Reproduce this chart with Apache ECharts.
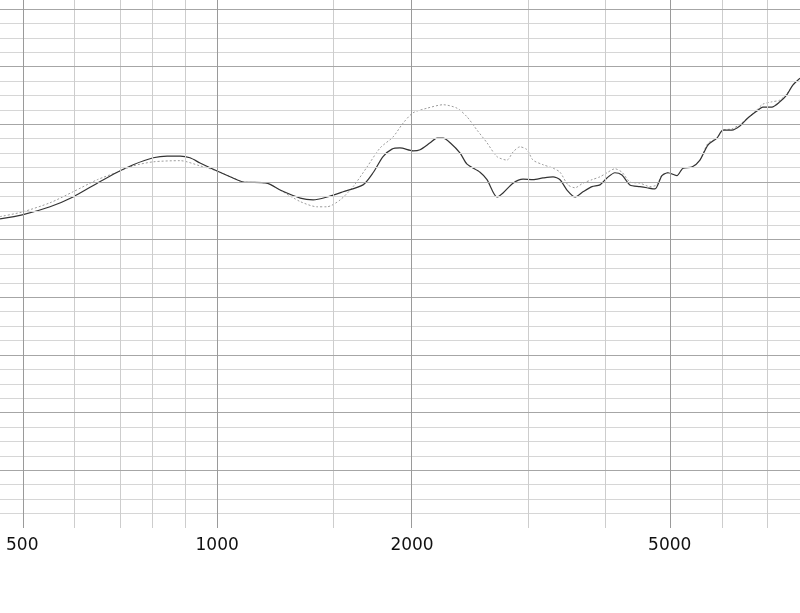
<!DOCTYPE html>
<html>
<head>
<meta charset="utf-8">
<script src="https://cdn.jsdelivr.net/npm/echarts@6/dist/echarts.min.js"></script>
<style>
html,body{margin:0;padding:0;background:#fff;}
#chart{width:800px;height:613px;}
</style>
</head>
<body>
<div id="chart"></div>
<script>
// Frequencies (Hz) and levels (dB)
const solidFreq = [462,500,552,599,653,701,742,797,837,877,908,941,1000,1058,1097,1194,1251,1344,1407,1478,1565,1680,1741,1804,1862,1916,2007,2058,2133,2186,2234,2290,2373,2432,2547,2611,2705,2764,2864,2968,3075,3186,3302,3385,3470,3570,3673,3793,3902,4000,4115,4219,4340,4498,4611,4744,4864,4969,5130,5241,5412,5568,5728,5914,6042,6237,6417,6602,6816,6963,7189,7397,7583,7747,7947];
const solidLevel = [93.6,94.3,95.7,97.4,99.8,101.7,103.0,104.2,104.5,104.5,104.2,103.3,101.9,100.7,100.0,99.8,98.6,97.2,96.9,97.4,98.3,99.5,101.6,104.4,105.7,105.9,105.4,105.6,106.8,107.6,107.6,106.8,105.0,103.1,101.7,100.4,97.4,98.1,99.8,100.5,100.4,100.7,100.9,100.4,98.6,97.4,98.3,99.2,99.5,100.7,101.6,101.2,99.5,99.2,99.0,98.8,101.1,101.6,101.1,102.4,102.6,103.8,106.4,107.6,109.0,109.0,109.7,111.1,112.3,113.0,113.0,113.9,115.1,116.8,118.0];

const dashFreq = [462,500,552,599,653,701,742,797,877,941,1000,1058,1097,1194,1251,1344,1427,1478,1549,1622,1704,1785,1869,1937,2007,2110,2234,2347,2432,2520,2611,2705,2803,2864,2936,3010,3075,3186,3302,3385,3482,3570,3673,3793,3902,4000,4115,4219,4340,4498,4660,4778,4864,4969,5130,5241,5412,5568,5728,5914,6042,6237,6417,6602,6816,6963,7189,7397,7583,7747,7947];
const dashLevel = [94.0,94.8,96.4,98.3,100.4,101.7,102.8,103.5,103.7,102.8,101.9,100.7,100.0,99.8,98.6,96.6,95.7,95.7,96.9,99.2,102.6,105.9,107.8,110.2,112.0,112.8,113.4,112.8,111.3,109.0,106.8,104.4,103.8,105.2,106.1,105.6,103.8,103.0,102.4,101.7,99.5,99.0,99.8,100.4,100.9,101.6,102.3,101.7,100.0,99.8,99.2,99.5,101.2,101.6,101.1,102.4,102.6,103.8,106.7,107.6,109.0,109.2,110.0,111.1,112.5,113.5,113.9,114.2,115.3,116.8,118.0];

// Axis ticks / grid lines
const freqLabels = [500,1000,2000,5000];
const minorFreqs = [600,700,800,900,1500,3000,4000,6000,7000];
const freqMin = 462, freqMax = 7947;
const levelMin = 40, levelMax = 131.56;
const levelMajor = [50,60,70,80,90,100,110,120,130];
const levelMinor = [42.5,45,47.5,52.5,55,57.5,62.5,65,67.5,72.5,75,77.5,82.5,85,87.5,92.5,95,97.5,102.5,105,107.5,112.5,115,117.5,122.5,125,127.5];

const lg = Math.log10;
const toPts = (fs, vs) => fs.map((f, i) => [lg(f), vs[i]]);

const gridLines = []
  .concat(levelMinor.map(v => ({ yAxis: v, lineStyle: { color: '#d6d6d6', width: 1, type: 'solid' } })))
  .concat(minorFreqs.map(f => ({ xAxis: lg(f), lineStyle: { color: '#cdcdcd', width: 1, type: 'solid' } })))
  .concat(levelMajor.map(v => ({ yAxis: v, lineStyle: { color: '#a6a6a6', width: 1, type: 'solid' } })))
  .concat(freqLabels.map(f => ({ xAxis: lg(f), lineStyle: { color: '#9a9a9a', width: 1, type: 'solid' } })));

const chart = echarts.init(document.getElementById('chart'));
chart.setOption({
  animation: false,
  backgroundColor: '#ffffff',
  grid: { left: 0, right: 0, top: 0, bottom: 85, containLabel: false },
  xAxis: {
    type: 'value',
    min: lg(freqMin),
    max: lg(freqMax),
    axisLine: { show: false },
    axisTick: { show: false },
    splitLine: { show: false },
    axisLabel: {
      customValues: freqLabels.map(lg),
      formatter: v => String(Math.round(Math.pow(10, v))),
      fontFamily: 'DejaVu Sans',
      fontSize: 17,
      color: '#111',
      margin: 9
    }
  },
  yAxis: {
    type: 'value',
    min: levelMin,
    max: levelMax,
    axisLine: { show: false },
    axisTick: { show: false },
    axisLabel: { show: false },
    splitLine: { show: false }
  },
  series: [
    {
      name: 'grid',
      type: 'line',
      data: toPts(solidFreq, solidLevel),
      showSymbol: false,
      silent: true,
      lineStyle: { opacity: 0 },
      z: 1,
      markLine: {
        silent: true,
        symbol: 'none',
        label: { show: false },
        data: gridLines
      }
    },
    {
      name: 'dashed',
      type: 'line',
      data: toPts(dashFreq, dashLevel),
      showSymbol: false,
      smooth: 0.25,
      z: 3,
      lineStyle: { color: '#9c9c9c', width: 1, type: [2, 2] }
    },
    {
      name: 'solid',
      type: 'line',
      data: toPts(solidFreq, solidLevel),
      showSymbol: false,
      smooth: 0.25,
      z: 4,
      lineStyle: { color: '#333333', width: 1.2 }
    }
  ]
});
</script>
</body>
</html>
